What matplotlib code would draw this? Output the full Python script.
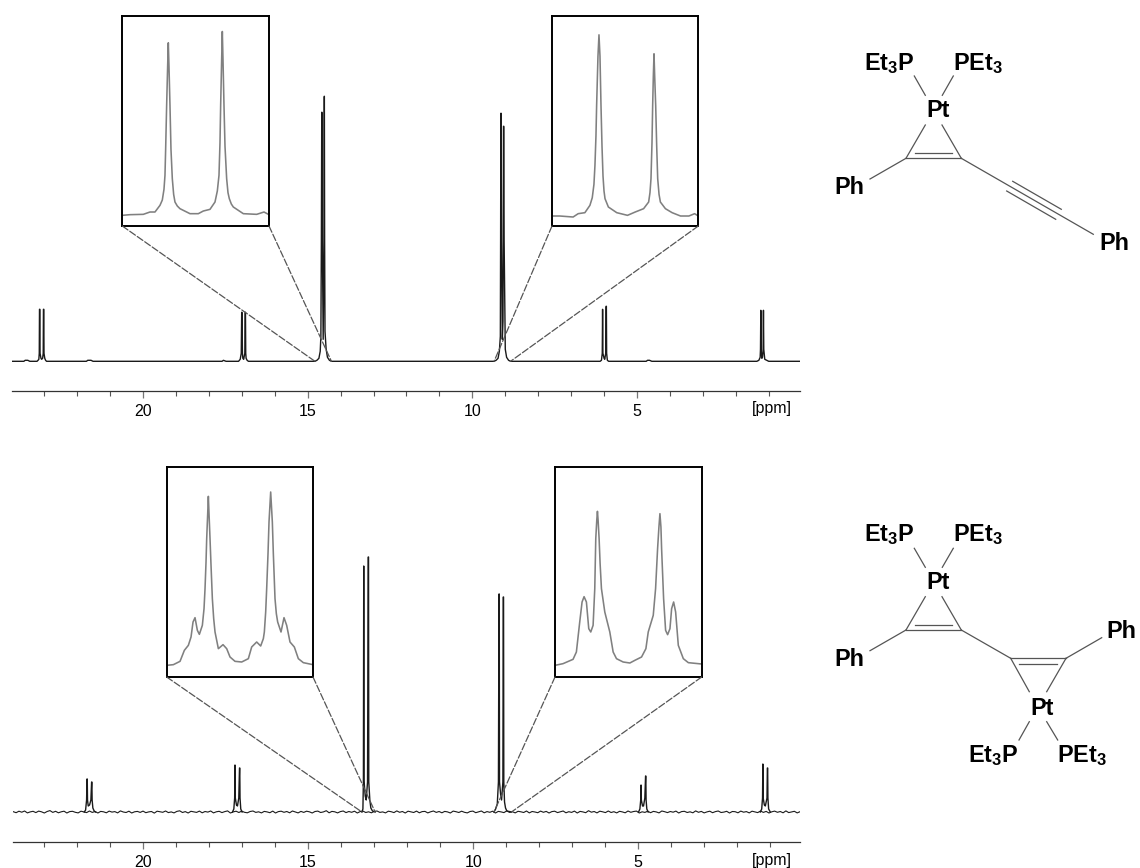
import matplotlib
matplotlib.use("Agg")
import matplotlib.pyplot as plt
import numpy as np
from matplotlib.patches import ConnectionPatch

plt.rcParams['font.family'] = ['Liberation Sans', 'DejaVu Sans']
plt.rcParams['mathtext.fontset'] = 'custom'
plt.rcParams['mathtext.bf'] = 'Liberation Sans:bold'
plt.rcParams['mathtext.rm'] = 'Liberation Sans:bold'

W, H = 1140, 868

major_ticks = [20, 15, 10, 5]
minor_ticks = [23, 22, 21, 19, 18, 17, 16, 14, 13, 12, 11, 9, 8, 7, 6, 4, 3, 2, 1]

# upper spectrum (intensity in picture pixels)
top_ppm = [23.98, 23.62, 23.58, 23.50, 23.44, 23.22, 23.19, 23.165, 23.152, 23.145, 23.135, 23.128, 23.10, 23.08,
           23.05, 23.032, 23.025, 23.015, 23.008, 22.985, 22.96, 22.93, 21.72, 21.68, 21.58, 21.52, 17.60, 17.56,
           17.48, 17.10, 17.05, 17.018, 17.005, 16.995, 16.982, 16.97, 16.945, 16.91, 16.898, 16.89,
           16.882, 16.87, 16.84, 16.80, 14.78, 14.72, 14.66, 14.62, 14.60, 14.585, 14.574, 14.566, 14.555,
           14.53, 14.505, 14.497, 14.494, 14.486, 14.475, 14.44, 14.40, 14.34, 14.28, 9.34, 9.28, 9.22,
           9.18, 9.15, 9.142, 9.134, 9.126, 9.115, 9.09, 9.07, 9.062, 9.054, 9.046, 9.035, 9.0, 8.96, 8.90,
           8.84, 6.12, 6.08, 6.055, 6.045, 6.035, 6.0, 5.98, 5.95, 5.938, 5.93, 5.922, 5.90, 5.86, 4.72,
           4.68, 4.62, 4.55, 1.36, 1.30, 1.26, 1.25, 1.24, 1.23, 1.21, 1.19, 1.17, 1.16, 1.15, 1.12,
           1.06, 1.0, 0.05]
top_int = [0, 0, 1, 1, 0, 0, 1, 2, 8, 52, 52, 8, 3, 2,
           3, 8, 52, 52, 8, 3, 1, 0, 0, 1, 1, 0, 0, 1,
           0, 0, 2, 8, 49, 49, 8, 3, 2, 8, 49, 49,
           8, 3, 1, 0, 0, 1, 3, 10, 25, 120, 249, 249, 120,
           22, 120, 265, 265, 120, 30, 12, 4, 1, 0, 0, 1, 3,
           10, 25, 120, 248, 248, 120, 22, 40, 120, 235, 235, 120, 12, 4, 1,
           0, 0, 1, 8, 52, 8, 3, 2, 8, 55, 55, 8, 1, 0, 0,
           1, 1, 0, 0, 1, 4, 12, 51, 12, 3, 4, 12, 51, 12, 2,
           1, 0, 0]

# lower spectrum: noisy baseline plus the multiplets drawn over it
bot_noise = [0.3, -0.7, 0.8, -0.2, 1.0, -0.9, 0.1, 0.7, -0.6, 0.9, 0.2, -1.0, 0.5, 1.4, -0.4, 0.7, -0.8, 0.2, 0.8, -1.0,
             0.4, 0.7, -0.3, -0.9, 0.8, 0.1, -0.6, 1.0, -0.4, 0.5, -1.0, 0.6, 0.2, -0.8, 0.9, -0.1, 0.4, -0.9, 1.1, 0.0,
             -0.5, 0.8, -1.0, 0.2, 0.6, -0.4, 0.9, -0.7, 0.1, 0.5, -1.1, 0.8, 0.3, -0.3, 1.0, -0.6, 0.1, -0.9, 0.6, 1.2,
             -0.5, 0.4, -1.0, 0.7, 0.2, -0.4, 0.9, -0.8, 0.5, -0.1, 1.0, -0.9, 0.2, 0.7, -0.6, 0.4, 1.1, -1.0, 0.1, 0.8,
             -0.5, 0.9, -0.3, -0.8, 0.5, 1.0, -0.4, 0.2, -0.9, 0.6, 0.1, -0.7, 0.9, -1.0, 0.4, 0.8, -0.3, 0.5, -0.8, 1.0,
             0.1, -0.9, 0.6, -0.4, 0.8, 0.2, -1.0, 0.5, 0.9, -0.5, 0.1, 1.3, -0.8, 0.6, 0.2, -0.9, 0.4, 1.0, -0.6, 0.5,
             -0.3, 0.8, -1.0, 0.4, 0.9, -0.5, 0.2, -0.8, 0.6, 1.0, -0.4, 0.1, -0.9, 0.8, 0.3, -0.6, 1.1, -0.3, 0.5, -1.0,
             0.8, 0.1, -0.5, 0.9, -0.8, 0.4, 0.6, -0.9, 0.2, 1.0, -0.4, 0.5, -0.8, 0.6, 0.1, -1.0, 0.9, 0.3, -0.5, 0.8,
             -0.3, -0.9, 0.5, 0.9, -0.7, 0.2, 1.0, -0.8, 0.4, -0.3, 0.8, -1.0, 0.6, 0.1, -0.6, 1.1, -0.4, 0.3, -0.9, 0.7,
             0.2, -0.5, 1.0, -0.9, 0.5, 0.0, -0.7, 0.9, -0.3, 0.6, -1.0, 0.4, 0.8, -0.6, 0.2, 1.0, -0.8, 0.3, -0.4, 0.9,
             -1.0, 0.6, 0.1, -0.7, 1.3, -0.2, 0.5, -0.9, 0.8, 0.2, -0.6, 1.0, -0.5, 0.3, -0.9, 0.7, 0.1, -0.8, 1.0, -0.3,
             0.5, 0.9, -1.0, 0.2, -0.4, 0.8, -0.7, 0.6, 0.1, -0.9, 1.0, 0.3, -0.6, 0.5, -0.2, 0.9, -1.0, 0.4, 0.7, -0.5,
             0.2, -0.8, 1.1, -0.3, 0.6, -0.9, 0.1, 0.8, -0.7, 0.4, 1.0, -0.5, -0.1, 0.7, -1.0, 0.5, 0.3, -0.8, 0.9, -0.2,
             0.4, -0.9, 0.8, 0.1, -0.6, 1.0, -0.4, 0.6, -1.0, 0.2, 0.9, -0.3, 0.5, -0.8, 1.1, -0.6, 0.1, 0.7, -0.9, 0.3]
bot_ppm = [21.78, 21.74, 21.71, 21.698, 21.69, 21.682, 21.66, 21.62, 21.58, 21.558, 21.55, 21.542, 21.52, 21.48, 21.44, None,
           17.29, 17.25, 17.225, 17.215, 17.205, 17.17, 17.14, 17.10, 17.078, 17.07, 17.062, 17.04, 17.0, None,
           13.37, 13.34, 13.325, 13.315, 13.305, 13.27, 13.24, 13.20, 13.178, 13.17, 13.162, 13.13, 13.10, 13.05, 12.97, None,
           9.37, 9.32, 9.27, 9.235, 9.218, 9.21, 9.202, 9.17, 9.14, 9.10, 9.088, 9.08, 9.072, 9.05, 9.02, 8.98, 8.84, None,
           4.99, 4.95, 4.925, 4.915, 4.905, 4.87, 4.84, 4.80, 4.778, 4.77, 4.762, 4.74, 4.70, None,
           1.30, 1.26, 1.235, 1.225, 1.215, 1.18, 1.15, 1.10, 1.088, 1.08, 1.072, 1.05, 1.0]
bot_int = [0, 2, 12, 33, 33, 12, 6, 7, 12, 30, 30, 12, 4, 1, 0, None,
           0, 3, 14, 47, 14, 7, 6, 14, 44, 44, 14, 3, 0, None,
           0, 3, 31, 246, 31, 16, 12, 30, 255, 255, 30, 12, 4, 1, 0, None,
           0, 3, 8, 30, 218, 218, 30, 18, 12, 30, 215, 215, 30, 10, 4, 1, 0, None,
           0, 3, 12, 27, 12, 6, 6, 14, 36, 36, 12, 3, 0, None,
           0, 3, 14, 48, 14, 7, 6, 14, 44, 44, 14, 3, 0]

# insets: x from the box's left edge, y from its bottom edge (read units)
tl_x = [0, 23, 63, 83, 98, 113, 120, 125, 128, 130, 133, 136, 138, 140, 143, 146, 150, 154, 158, 165, 173, 203, 228, 243, 263, 278,
        285, 290, 293, 295, 298, 300, 302, 305, 308, 313, 317, 321, 327, 333, 363, 403, 425, 440]
tl_y = [32, 34, 35, 42, 42, 62, 78, 110, 152, 230, 362, 480, 550, 480, 362, 230, 142, 95, 72, 60, 52, 37, 37, 45, 50, 72,
        105, 152, 250, 362, 500, 584, 500, 362, 240, 142, 100, 82, 66, 57, 37, 35, 42, 34]
tr_x = [0, 23, 63, 78, 98, 113, 120, 125, 128, 131, 133, 137, 140, 143, 146, 149, 152, 155, 158, 168, 193, 225, 248, 273, 288, 292,
        295, 298, 300, 302, 304, 306, 309, 312, 315, 319, 323, 338, 358, 383, 408, 425, 436]
tr_y = [30, 30, 27, 37, 40, 62, 85, 125, 182, 270, 362, 510, 574, 510, 362, 240, 150, 105, 82, 57, 40, 32, 42, 52, 72, 100,
        142, 250, 362, 450, 517, 450, 362, 240, 142, 95, 72, 52, 40, 30, 30, 37, 30]
bl_x = [0, 20, 40, 53, 65, 73, 79, 85, 92, 98, 107, 112, 115, 118, 120, 123, 125, 127, 130, 133, 137, 141, 145, 155, 169, 180, 190, 205, 225, 245,
        255, 270, 282, 290, 293, 297, 300, 304, 307, 312, 317, 320, 325, 329, 333, 343, 352, 360, 370, 383, 395, 410, 439]
bl_y = [35, 37, 47, 80, 95, 120, 165, 178, 140, 128, 155, 205, 265, 345, 415, 490, 542, 490, 415, 335, 235, 175, 135, 85, 97, 85, 60, 47, 45, 55,
        90, 105, 93, 115, 135, 195, 265, 370, 465, 555, 465, 370, 235, 190, 165, 135, 178, 155, 105, 90, 55, 43, 37]
br_x = [0, 24, 54, 64, 74, 81, 87, 94, 101, 107, 114, 119, 122, 125, 127, 129, 132, 135, 139, 149, 164, 174, 184, 204, 224, 239, 259, 272, 279, 294, 301, 304,
        307, 311, 314, 317, 319, 322, 325, 331, 337, 344, 349, 355, 361, 369, 384, 399, 439]
br_y = [35, 40, 53, 75, 165, 225, 241, 225, 145, 135, 155, 265, 415, 470, 497, 470, 415, 340, 265, 195, 135, 75, 55, 45, 42, 50, 60, 85, 135, 185, 265, 325,
        385, 450, 490, 450, 385, 310, 235, 140, 127, 145, 205, 225, 195, 95, 55, 43, 39]

# molecules, in picture pixels
top_bonds = [(914.3, 76, 925.3, 95.3), (953.3, 76, 942.3, 95.3), (925.3, 125, 906, 158.3), (942, 125, 961.3, 158.3),
             (906, 158.3, 961.3, 158.3), (915, 153.3, 952.3, 153.3), (906, 158.3, 870, 179), (961.3, 158.3, 1093.3, 234.3),
             (1012.7, 181.3, 1061.3, 209.3), (1006.7, 191, 1055.7, 219.3)]
bot_bonds = [(914.3, 548.3, 925.3, 567.3), (953.3, 548.3, 942.3, 567.3), (925.3, 596.7, 906, 630), (942, 596.7, 961.3, 630),
             (906, 630, 961.3, 630), (915, 625, 952.3, 625), (906, 630, 870, 650.7), (961.3, 630, 1010.7, 658.3),
             (1010.7, 658.3, 1066, 658.3), (1019.3, 664, 1056.7, 664), (1010.7, 658.3, 1029.3, 691.7), (1066, 658.3, 1046.7, 691.7),
             (1066, 658.3, 1101.7, 637.7), (1029.3, 721.7, 1019, 740), (1046.7, 721.7, 1057.7, 740)]
ET3P = r'$\mathbf{Et_3P}$'
PET3 = r'$\mathbf{PEt_3}$'
mol_labels = [(889.3, 63.3, ET3P), (978.3, 63.3, PET3), (938, 110.7, 'Pt'), (849.3, 187.3, 'Ph'), (1114, 243.3, 'Ph'),
              (889.3, 535, ET3P), (978.3, 535, PET3), (938, 582.7, 'Pt'), (849.3, 660, 'Ph'), (1121.7, 631.7, 'Ph'),
              (1042.3, 708.3, 'Pt'), (993.3, 756, ET3P), (1082.3, 756, PET3)]


def pixel_axes(x0, y0, x1, y1):
    """Ejes colocados con coordenadas de pixel de la imagen"""
    return fig.add_axes([x0 / W, 1 - y1 / H, (x1 - x0) / W, (y1 - y0) / H])


def spectrum_axes(x0, x1, y_axis, base_gap, ppm_left, ppm_right, ppm_label_y):
    ax = pixel_axes(x0, y_axis - 301, x1, y_axis)
    ax.patch.set_alpha(0)
    ax.set_xlim(ppm_left, ppm_right)
    ax.set_ylim(-base_gap, 301 - base_gap)
    for s in ['top', 'left', 'right']:
        ax.spines[s].set_visible(False)
    ax.spines['bottom'].set_color('#333333')
    ax.spines['bottom'].set_linewidth(0.9)
    ax.set_yticks([])
    ax.set_xticks(major_ticks)
    ax.set_xticks(minor_ticks, minor=True)
    ax.tick_params(axis='x', which='major', length=5, width=0.9, color='#777777', labelsize=11.5, pad=4.5)
    ax.tick_params(axis='x', which='minor', length=3.6, width=0.8, color='#555555')
    ax.text(771.5 / W, 1 - ppm_label_y / H, '[ppm]', fontsize=11.5, ha='center', va='center', transform=fig.transFigure)
    return ax


def inset(box, xs, ys, width, height):
    ax = pixel_axes(*box)
    ax.plot(xs, ys, color='#808080', lw=1.15)
    ax.set_xlim(0, width)
    ax.set_ylim(0, height)
    ax.set_xticks([])
    ax.set_yticks([])
    for s in ax.spines.values():
        s.set_linewidth(1.4)
        s.set_color('black')
    return ax


def zoom_lines(ins, ax, ppm_a, ppm_b):
    for corner, ppm in [(0, ppm_a), (1, ppm_b)]:
        con = ConnectionPatch(xyA=(corner, 0), coordsA=ins.transAxes, xyB=(ppm, 0), coordsB=ax.transData,
                              color='#555555', lw=0.9, linestyle=(0, (5.5, 1.8)))
        fig.add_artist(con)


fig = plt.figure(figsize=(W / 100, H / 100), dpi=100)

ax_top = spectrum_axes(12, 800, 391, 29.7, 23.98, 0.05, 409)
ax_top.plot(top_ppm, top_int, color='#1a1a1a', lw=1.0)

ax_bot = spectrum_axes(13.3, 800, 842.3, 30.3, 23.93, 0.10, 861)
bot_noise_ppm = np.linspace(23.93, 0.10, len(bot_noise))
ax_bot.plot(bot_noise_ppm, bot_noise, color='#1a1a1a', lw=0.8)
ax_bot.plot(np.array(bot_ppm, dtype=float), np.array(bot_int, dtype=float), color='#1a1a1a', lw=1.0)

in_tl = inset((122.3, 15.5, 269, 226), tl_x, tl_y, 440, 632)
in_tr = inset((552, 15.5, 698.3, 226), tr_x, tr_y, 436, 632)
in_bl = inset((166.7, 467, 313, 677), bl_x, bl_y, 439, 630)
in_br = inset((555, 467, 701.7, 677), br_x, br_y, 439, 630)

zoom_lines(in_tl, ax_top, 14.78, 14.28)
zoom_lines(in_tr, ax_top, 9.34, 8.84)
zoom_lines(in_bl, ax_bot, 13.37, 12.97)
zoom_lines(in_br, ax_bot, 9.37, 8.84)

ax_mol = fig.add_axes([0, 0, 1, 1])
ax_mol.patch.set_alpha(0)
ax_mol.set_xlim(0, W)
ax_mol.set_ylim(H, 0)
ax_mol.axis('off')
for x0, y0, x1, y1 in top_bonds + bot_bonds:
    ax_mol.plot([x0, x1], [y0, y1], color='#555555', lw=0.9)
for x, y, s in mol_labels:
    ax_mol.text(x, y, s, fontsize=16.8, fontweight='bold', ha='center', va='center', color='black')

plt.savefig('out.png', dpi=100)
